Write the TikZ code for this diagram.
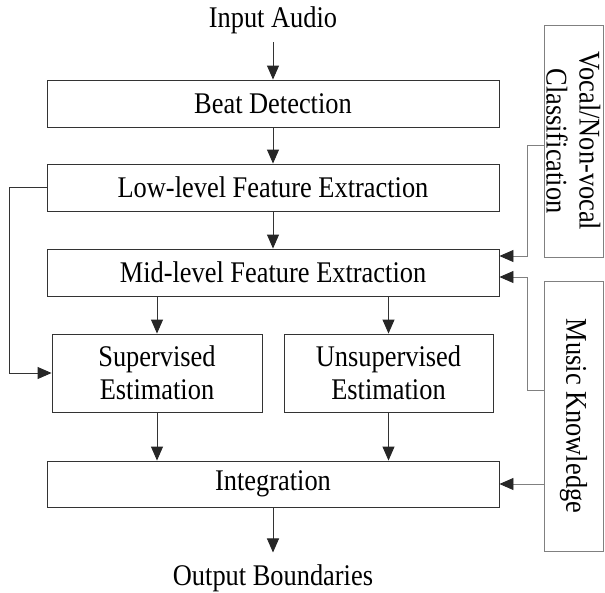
\documentclass[tikz,border=0pt]{standalone}
\usepackage{fontspec}
\setmainfont{Liberation Serif}[FakeStretch=0.88]
\usetikzlibrary{arrows.meta}

\begin{document}
\begin{tikzpicture}[x=1pt, y=-1pt,
    font=\fontsize{30}{33}\selectfont,
    block/.style={draw=black!80, line width=0.9pt, inner sep=0pt, align=center, minimum height=47pt},
    sidebox/.style={draw=black!50, line width=0.9pt, inner sep=0pt, align=center, minimum height=59pt, rotate=-90},
    tip/.style={-{Triangle[length=14pt, width=12pt, color=black!85]}},
    arr/.style={draw=black!80, line width=0.9pt, tip},
    sarr/.style={draw=black!50, line width=0.9pt, tip}]

    % Fix the page size
    \useasboundingbox (0,0) rectangle (605,592);

    % Draw the main chain of blocks
    \node[anchor=base, inner sep=0pt] (in) at (273,27) {Input Audio};
    \node[block, minimum width=452pt] (beat) at (273,103.5) {Beat Detection};
    \node[block, minimum width=452pt] (low) at (273,187.5) {Low-level Feature Extraction};
    \node[block, minimum width=452pt] (mid) at (273,272.5) {Mid-level Feature Extraction};
    \node[block, minimum width=210pt, minimum height=78pt] (sup) at (157,373) {Supervised\\Estimation};
    \node[block, minimum width=209pt, minimum height=78pt] (unsup) at (388.5,373) {Unsupervised\\Estimation};
    \node[block, minimum width=452pt, minimum height=46pt] (integ) at (273,484) {Integration};
    \node[anchor=base, inner sep=0pt] (out) at (273,585) {Output Boundaries};

    % Draw the side information boxes
    \node[sidebox, minimum width=232pt] (vocal) at (573.5,141) {Vocal/Non-vocal\\Classification};
    \node[sidebox, minimum width=270pt] (music) at (573.5,416) {Music Knowledge};

    % Connect the main chain
    \draw[arr, shorten <=8.5pt] (in) -- (beat);
    \draw[arr] (beat) -- (low);
    \draw[arr] (low) -- (mid);
    \draw[arr] (mid.south -| sup.north) -- (sup.north);
    \draw[arr] (mid.south -| unsup.north) -- (unsup.north);
    \draw[arr] (sup.south) -- (sup.south |- integ.north);
    \draw[arr] (unsup.south) -- (unsup.south |- integ.north);
    \draw[arr, shorten >=11.5pt] (integ) -- (out);

    % Feedback from low-level features to the supervised estimation
    \draw[arr] (low.west) -- ++(-37,0) |- (sup.west);

    % Side inputs into the mid-level features and the integration
    \draw[sarr] ([yshift=-4pt]vocal.south) -- ++(-16,0) |- ([yshift=16.5pt]mid.east);
    \draw[sarr] ([yshift=26pt]music.south) -- ++(-16,0) |- ([yshift=-4.5pt]mid.east);
    \draw[sarr] (music.south |- integ.east) -- (integ.east);
\end{tikzpicture}
\end{document}
